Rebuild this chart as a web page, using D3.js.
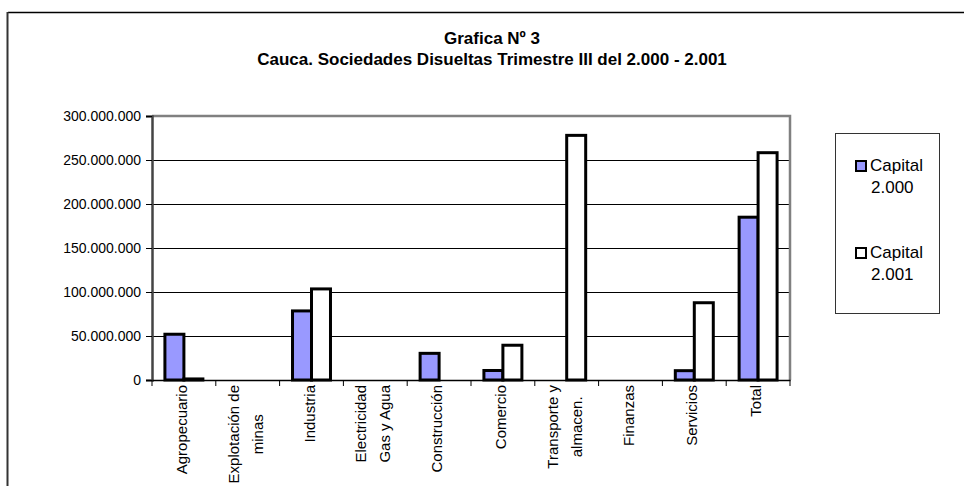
<!DOCTYPE html>
<html>
<head>
<meta charset="utf-8">
<script src="https://cdn.jsdelivr.net/npm/d3@7"></script>
<style>
  html, body { margin: 0; padding: 0; background: #fff; }
  svg { display: block; font-family: "Liberation Sans", Arial, sans-serif; }
</style>
</head>
<body>
<svg id="chart" width="964" height="486"></svg>
<script>
// ---- data ----
const categories = [
  ["Agropecuario"],
  ["Explotación de", "minas"],
  ["Industria"],
  ["Electricidad", "Gas y Agua"],
  ["Construcción"],
  ["Comercio"],
  ["Transporte y", "almacen."],
  ["Finanzas"],
  ["Servicios"],
  ["Total"]
];
const seriesNames = [["Capital", "2.000"], ["Capital", "2.001"]];
const capital2000 = [52000000, 0, 78500000, 0, 30300000, 10800000, 0, 0, 10600000, 185000000];
const capital2001 = [1200000, 0, 103500000, 0, 0, 39500000, 278000000, 0, 87800000, 258300000];
const yTicks = [0, 50000000, 100000000, 150000000, 200000000, 250000000, 300000000];
const titleLines = ["Grafica Nº 3", "Cauca. Sociedades Disueltas Trimestre III del 2.000 - 2.001"];

const seriesValues = [capital2000, capital2001];
const seriesFills = ["#9999FF", "#FFFFFF"];

const svg = d3.select("#chart");
const plot = { left: 152, right: 790, top: 116, bottom: 380 };

// outer chart frame (extends past the window on right/bottom)
svg.append("line").attr("x1", 8).attr("x2", 964).attr("y1", 12.5).attr("y2", 12.5)
  .attr("stroke", "#000").attr("stroke-width", 1.5);
svg.append("line").attr("x1", 7.5).attr("x2", 7.5).attr("y1", 12).attr("y2", 486)
  .attr("stroke", "#333").attr("stroke-width", 2);

// titles
svg.append("text").attr("x", 492).attr("y", 44).attr("text-anchor", "middle")
  .attr("font-size", 17).attr("font-weight", "bold").text(titleLines[0]);
svg.append("text").attr("x", 492).attr("y", 65).attr("text-anchor", "middle")
  .attr("font-size", 17).attr("font-weight", "bold").text(titleLines[1]);

const catKeys = categories.map(c => c.join(" "));
const x = d3.scaleBand().domain(catKeys).range([plot.left, plot.right]).paddingInner(0).paddingOuter(0);
const xs = d3.scaleBand().domain(d3.range(seriesValues.length)).range([0, x.bandwidth()])
  .paddingInner(0).paddingOuter(0.68);
const y = d3.scaleLinear().domain([0, 300000000]).range([plot.bottom, plot.top]);

const locale = d3.formatLocale({ decimal: ",", thousands: ".", grouping: [3], currency: ["", ""] });
const fmt = locale.format(",");

// gridlines
svg.append("g").selectAll("line").data(yTicks.filter(t => t > 0 && t < 300000000)).join("line")
  .attr("x1", plot.left).attr("x2", plot.right)
  .attr("y1", d => Math.round(y(d)) + 0.5).attr("y2", d => Math.round(y(d)) + 0.5)
  .attr("stroke", "#000").attr("stroke-width", 1);

// plot area top/right border
svg.append("path")
  .attr("d", `M${plot.left},${plot.top} H${plot.right} V${plot.bottom}`)
  .attr("fill", "none").attr("stroke", "#808080").attr("stroke-width", 2.5);

// bars
const barG = svg.append("g");
seriesValues.forEach((vals, si) => {
  barG.append("g").selectAll("rect")
    .data(vals.map((v, i) => ({ v, cat: catKeys[i] })).filter(d => d.v > 0))
    .join("rect")
    .attr("x", d => x(d.cat) + xs(si))
    .attr("width", xs.bandwidth())
    .attr("y", d => y(d.v))
    .attr("height", d => y(0) - y(d.v))
    .attr("fill", seriesFills[si])
    .attr("stroke", "#000").attr("stroke-width", 3);
});

// y axis
const yAxis = d3.axisLeft(y).tickValues(yTicks).tickFormat(fmt).tickSize(6).tickPadding(5);
const yG = svg.append("g").attr("transform", `translate(${plot.left},0)`).call(yAxis);
yG.select(".domain").attr("stroke", "#444").attr("stroke-width", 2.5);
yG.selectAll(".tick line").attr("stroke", "#000");
yG.selectAll(".tick text").attr("font-size", 14).attr("fill", "#000")
  .attr("font-family", "'Liberation Sans', Arial, sans-serif");

// x axis
const xAxis = d3.axisBottom(x).tickSize(0).tickFormat("");
const xG = svg.append("g").attr("transform", `translate(0,${plot.bottom})`).call(xAxis);
xG.select(".domain").attr("stroke", "#000").attr("stroke-width", 1.5);
// category boundary ticks
svg.append("g").selectAll("line")
  .data(catKeys.map(k => x(k)).concat([plot.right]))
  .join("line")
  .attr("x1", d => d).attr("x2", d => d)
  .attr("y1", plot.bottom).attr("y2", plot.bottom + 6)
  .attr("stroke", "#000").attr("stroke-width", 1);

// category labels (rotated)
const labelTop = 385;
const lineGap = 24;
const labG = svg.append("g").attr("font-size", 15).attr("fill", "#000");
categories.forEach((lines, i) => {
  const cx = x(catKeys[i]) + x.bandwidth() / 2 - (lines.length > 1 ? 2 : 2);
  const texts = lines.map(l => labG.append("text").text(l).attr("text-anchor", "middle"));
  const maxLen = d3.max(texts, t => t.node().getComputedTextLength());
  const cy = labelTop + maxLen / 2;
  texts.forEach((t, j) => {
    const lx = cx + (j - (lines.length - 1) / 2) * lineGap + 5;
    t.attr("transform", `translate(${lx},${cy}) rotate(-90)`);
  });
});

// legend
const lg = svg.append("g");
lg.append("rect").attr("x", 835.5).attr("y", 133.5).attr("width", 104).attr("height", 180)
  .attr("fill", "#fff").attr("stroke", "#333").attr("stroke-width", 1);
const legendY = [161, 248];
seriesNames.forEach((nm, si) => {
  lg.append("rect").attr("x", 856).attr("y", legendY[si]).attr("width", 10).attr("height", 10)
    .attr("fill", seriesFills[si]).attr("stroke", "#000").attr("stroke-width", 2);
  lg.append("text").attr("x", 870).attr("y", legendY[si] + 10).attr("font-size", 17).text(nm[0]);
  lg.append("text").attr("x", 871).attr("y", legendY[si] + 32).attr("font-size", 17).text(nm[1]);
});
</script>
</body>
</html>
